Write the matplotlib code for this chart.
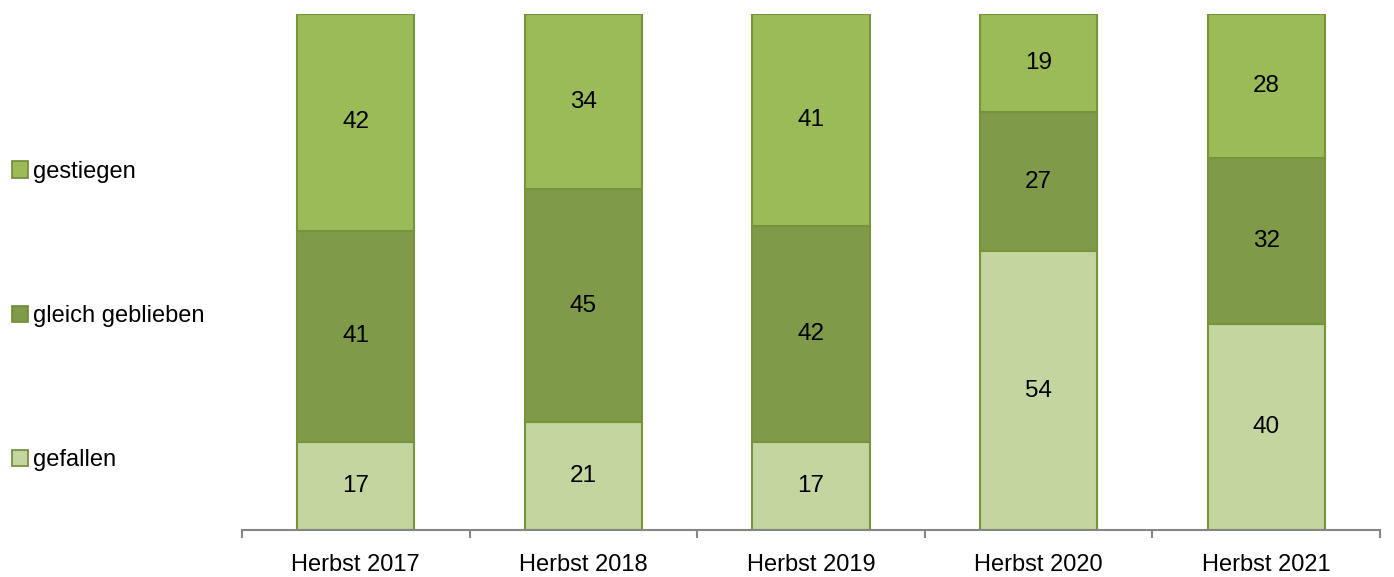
import matplotlib.pyplot as plt
import matplotlib.patches as mpatches
import numpy as np

plt.rcParams['font.family'] = ['Liberation Sans', 'DejaVu Sans']

# data (percent)
seasons = ['Herbst 2017', 'Herbst 2018', 'Herbst 2019', 'Herbst 2020', 'Herbst 2021']
gefallen = [17, 21, 17, 54, 40]
gleich_geblieben = [41, 45, 42, 27, 32]
gestiegen = [42, 34, 41, 19, 28]

series = [('gefallen', gefallen, '#C4D6A0'),
          ('gleich geblieben', gleich_geblieben, '#7F9A48'),
          ('gestiegen', gestiegen, '#9BBB59')]

fig = plt.figure(figsize=(13.94, 5.77), dpi=100)
ax = fig.add_axes([242 / 1394, 1 - 530 / 577, (1380 - 242) / 1394, (530 - 14) / 577])

x = np.arange(len(seasons))
bottom = np.zeros(len(seasons))
handles = []
for label, values, color in series:
    values = np.array(values, dtype=float)
    ax.bar(x, values, width=0.515, bottom=bottom, color=color,
           edgecolor='#77933C', linewidth=1.5, zorder=2)
    for xi, b, v in zip(x, bottom, values):
        ax.text(xi, b + v / 2, '%d' % v, ha='center', va='center',
                fontsize=17.5, color='black', zorder=3)
    bottom += values
    handles.append(mpatches.Patch(facecolor=color, edgecolor='#6E8A38',
                                  linewidth=1.2, label=label))

ax.set_xlim(-0.5, len(seasons) - 0.5)
ax.set_ylim(0, 100)

for side in ['top', 'right', 'left']:
    ax.spines[side].set_visible(False)
ax.spines['bottom'].set_color('#868686')
ax.spines['bottom'].set_linewidth(1.5)

ax.set_yticks([])
ax.set_xticks(np.arange(len(seasons) + 1) - 0.5)
ax.set_xticklabels([])
ax.tick_params(axis='x', which='major', direction='out', length=6,
               width=1.5, color='#868686')
ax.set_xticks(x, minor=True)
ax.set_xticklabels(seasons, minor=True, fontsize=17)
ax.tick_params(axis='x', which='minor', length=0, pad=17)

fig.legend(handles=handles[::-1], loc='center left',
           bbox_to_anchor=(0.002, 1 - 316 / 577), frameon=False,
           fontsize=17, handlelength=0.68, handleheight=0.68,
           handletextpad=0.2, labelspacing=5.18, borderaxespad=0)

fig.savefig('out.png', dpi=100)
